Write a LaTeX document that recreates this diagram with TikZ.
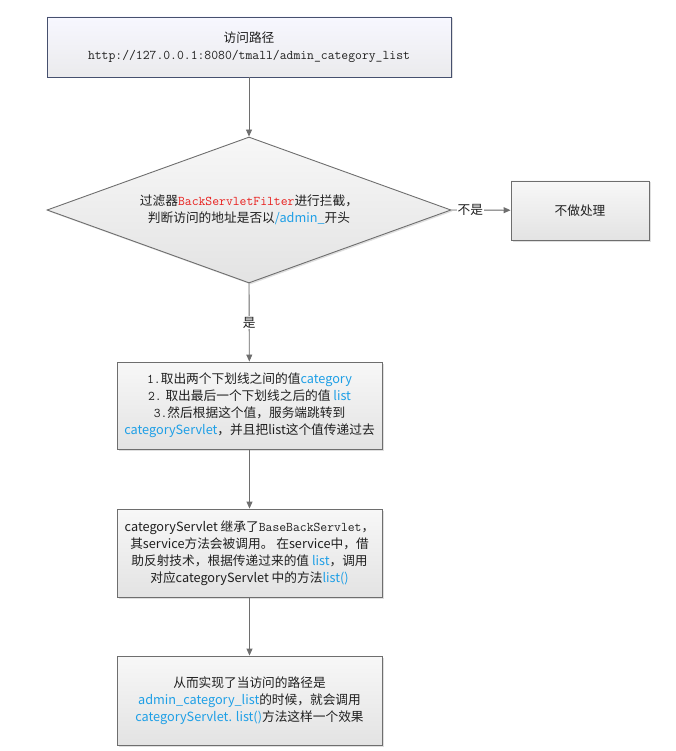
\documentclass[tikz,border=0pt]{standalone}
\usepackage{fontspec}
\setmainfont{Noto Sans CJK SC}
\usepackage{tikz}
\usetikzlibrary{shapes,shapes.geometric,arrows.meta,positioning,shadows}
\definecolor{lineg}{HTML}{6E6E6E}
\definecolor{hl}{HTML}{1E9FE6}
\definecolor{rd}{HTML}{E8201E}
\definecolor{bluebd}{HTML}{46506E}
\newcommand{\hb}[1]{\textcolor{hl}{#1}}
\newcommand{\mono}[1]{{\ttfamily\fontsize{13.3}{17}\selectfont #1}}

\begin{document}
\begin{tikzpicture}[x=1pt,y=-1pt,->,>={Triangle[length=7pt,width=6pt]},
    every node/.style={font=\fontsize{12.7}{17}\selectfont,align=center,text=black!88},
    grbox/.style={draw=lineg,line width=0.9pt,top color=white!97!black,bottom color=white!89!black,
        drop shadow={shadow xshift=1.5pt,shadow yshift=-1.5pt,opacity=0.25},inner sep=0pt},
    bluebox/.style={grbox,draw=bluebd,top color=blue!3!white,bottom color=blue!10!black!8!white},
    decide/.style={grbox,diamond,aspect=2.76,minimum width=404pt,minimum height=146pt}]
    \useasboundingbox (0,0) rectangle (676,751);

    \node [bluebox,minimum width=404pt,minimum height=60pt] (url) at (249,47)
        {访问路径\\ \mono{http://127.0.0.1:8080/tmall/admin\_category\_list}};
    \node [decide] (filter) at (249,210)
        {过滤器\textcolor{rd}{\mono{BackServletFilter}}进行拦截，\\
         判断访问的地址是否以\hb{/admin\_}开头};
    \node [grbox,minimum width=138pt,minimum height=59pt] (skip) at (580,210.5) {不做处理};
    \node [grbox,minimum width=265pt,minimum height=87pt] (parse) at (249.5,405.5)
        {\mono{1.}取出两个下划线之间的值\hb{category}\\
         \mono{2.} 取出最后一个下划线之后的值 \hb{list}\\
         \mono{3.}然后根据这个值，服务端跳转到\\
         \hb{categoryServlet}，并且把list这个值传递过去};
    \node [grbox,minimum width=265pt,minimum height=88pt] (servlet) at (249.5,553)
        {categoryServlet 继承了\mono{BaseBackServlet}，\\
         其service方法会被调用。 在service中，借\\
         助反射技术，根据传递过来的值 \hb{list}，调用\\
         对应categoryServlet 中的方法\hb{list()}};
    \node [grbox,minimum width=265pt,minimum height=89pt] (result) at (249.5,700.5)
        {从而实现了当访问的路径是\\
         \hb{admin\_category\_list}的时候，就会调用\\
         \hb{categoryServlet. list()}方法这样一个效果};

    \path [every edge/.style={draw=lineg,line width=0.9pt,fill=lineg}]
        (url) edge (filter)
        (filter.east) edge node[pos=0.32,fill=white,inner sep=1pt] {不是} (skip)
        (filter.south) edge node[fill=white,inner sep=1pt] {是} (parse)
        (parse) edge (servlet)
        (servlet) edge (result)
    ;
\end{tikzpicture}
\end{document}
